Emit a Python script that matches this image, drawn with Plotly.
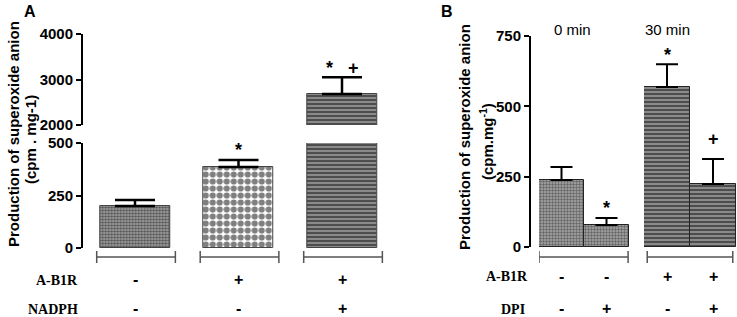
import plotly.graph_objects as go

# ---------------- data ----------------
a_categories = ["Control", "A-B1R", "A-B1R + NADPH"]
a_values = [200, 386, 2680]
a_errors = [29, 33, 370]
a_row1_label = "A-B1R"
a_row1 = ["-", "+", "+"]
a_row2_label = "NADPH"
a_row2 = ["-", "-", "+"]
a_sig = ["", "*", "*   +"]
a_low_ticks = [0, 250, 500]
a_high_ticks = [2000, 3000, 4000]

b_groups = ["0 min", "30 min"]
b_cats_0 = ["0 min / -DPI", "0 min / +DPI"]
b_vals_0 = [238, 78]
b_err_0 = [46, 25]
b_cats_30 = ["30 min / -DPI", "30 min / +DPI"]
b_vals_30 = [569, 224]
b_err_30 = [81, 89]
b_row1_label = "A-B1R"
b_row1 = ["-", "-", "+", "+"]
b_row2_label = "DPI"
b_row2 = ["-", "+", "-", "+"]
b_sig = ["", "*", "*", "+"]
b_ticks = [0, 250, 500, 750]

W, H = 737, 317
def px(x):
    return x / W
def py(y):
    return 1 - y / H

SANS = "Liberation Sans, Arial, sans-serif"
SERIF = "Liberation Serif, Times New Roman, serif"

fig = go.Figure()

# ---------------- panel A ----------------
a_pattern = dict(
    shape=[".", ".", "-"],
    fgcolor=["#000000", "#000000", "#000000"],
    bgcolor=["#a8a8a8", "#ffffff", "#9a9a9a"],
    size=[3, 7, 4],
    solidity=[0.5, 0.62, 0.6],
    fillmode="overlay",
)
for yax in ["y", "y2"]:
    fig.add_trace(go.Bar(
        x=a_categories, y=a_values, xaxis="x", yaxis=yax, width=0.68,
        marker=dict(color="white", pattern=a_pattern,
                    line=dict(color="#444444", width=1)),
        error_y=dict(type="data", array=a_errors, arrayminus=[0]*3,
                     symmetric=False, color="black", thickness=2.5, width=20),
        showlegend=False, hoverinfo="skip",
    ))

# ---------------- panel B ----------------
b_pat0 = dict(shape=".", fgcolor="#222222", bgcolor="#a8a8a8", size=3,
              solidity=0.5, fillmode="overlay")
b_pat30 = dict(shape="-", fgcolor="#000000", bgcolor="#9a9a9a", size=4,
               solidity=0.6, fillmode="overlay")
fig.add_trace(go.Bar(
    x=b_cats_0, y=b_vals_0, xaxis="x3", yaxis="y3", width=1.0,
    marker=dict(color="white", pattern=b_pat0, line=dict(color="#222222", width=1)),
    error_y=dict(type="data", array=b_err_0, arrayminus=[0]*2, symmetric=False,
                 color="black", thickness=2, width=11),
    showlegend=False, hoverinfo="skip"))
fig.add_trace(go.Bar(
    x=b_cats_30, y=b_vals_30, xaxis="x4", yaxis="y3", width=1.0,
    marker=dict(color="white", pattern=b_pat30, line=dict(color="#222222", width=1)),
    error_y=dict(type="data", array=b_err_30, arrayminus=[0]*2, symmetric=False,
                 color="black", thickness=2, width=11),
    showlegend=False, hoverinfo="skip"))

yax_common = dict(showline=True, linecolor="black", linewidth=2, ticks="outside",
                  ticklen=5, tickwidth=2, tickcolor="black", showgrid=False,
                  zeroline=False, fixedrange=True,
                  tickfont=dict(family=SANS, size=15, color="black", weight="bold"))
xax_common = dict(visible=False, fixedrange=True, type="category")

fig.update_layout(
    width=W, height=H, margin=dict(l=0, r=0, t=0, b=0, autoexpand=False),
    paper_bgcolor="white", plot_bgcolor="white", bargap=0, barmode="overlay",
    xaxis=dict(domain=[px(83.25), px(393.75)], range=[-0.5, 2.5], anchor="y", **xax_common),
    yaxis=dict(domain=[py(248), py(143)], range=[0, 500], tickvals=a_low_ticks,
               anchor="free", position=px(82), **yax_common),
    yaxis2=dict(domain=[py(125), py(34)], range=[2000, 4000], tickvals=a_high_ticks,
                anchor="free", position=px(82), **yax_common),
    xaxis3=dict(domain=[px(539), px(629)], range=[-0.5, 1.5], anchor="y3", **xax_common),
    xaxis4=dict(domain=[px(644), px(736)], range=[-0.5, 1.5], anchor="y3", **xax_common),
    yaxis3=dict(domain=[py(247), py(36)], range=[0, 750], tickvals=b_ticks,
                anchor="free", position=px(530), **yax_common),
)

shapes = []
annos = []

def bracket(xref, x0, x1):
    yb = py(257)
    col = "#555555"
    shapes.append(dict(type="line", xref=xref, yref="paper", x0=x0, x1=x1, y0=yb, y1=yb,
                       line=dict(color=col, width=1.5)))
    for xx in (x0, x1):
        shapes.append(dict(type="line", xref=xref, yref="paper", x0=xx, x1=xx,
                           y0=py(251), y1=py(263), line=dict(color=col, width=1.5)))

for i in range(len(a_categories)):
    bracket("x", i - 0.37, i + 0.39)
bracket("x3", -0.5, 1.48)
bracket("x4", -0.43, 1.43)

def txt(text, x, y, xref="paper", yref="paper", size=14, family=SANS, bold=True,
        angle=0, xanchor="center", yanchor="middle", yshift=0):
    annos.append(dict(text=text, x=x, y=y, xref=xref, yref=yref, showarrow=False,
                      textangle=angle, xanchor=xanchor, yanchor=yanchor, yshift=yshift,
                      font=dict(family=family, size=size, color="black",
                                weight="bold" if bold else "normal")))

# panel letters
txt("A", px(30), py(12), size=16)
txt("B", px(447), py(12), size=16)

# y titles
txt("Production of superoxide anion", px(13), py(134), size=15, angle=-90)
txt("(cpm . mg-1)", px(31), py(140), size=15, angle=-90)
txt("Production of superoxide anion", px(464), py(137), size=15, angle=-90)
txt("(cpm.mg<sup>-1</sup>)", px(486), py(142), size=15, angle=-90)

# group headers
txt(b_groups[0], px(572), py(30), size=15, bold=False)
txt(b_groups[1], px(667), py(30), size=15, bold=False)

# row labels panel A
txt(a_row1_label, px(80), py(280), family=SERIF, size=14, xanchor="right")
txt(a_row2_label, px(80), py(309), family=SERIF, size=14, xanchor="right")
for c, s1, s2 in zip(a_categories, a_row1, a_row2):
    txt(s1, c, py(279), xref="x", size=16)
    txt(s2, c, py(308), xref="x", size=16)

# row labels panel B
txt(b_row1_label, px(530), py(276), family=SERIF, size=14, xanchor="right")
txt(b_row2_label, px(527), py(309), family=SERIF, size=14, xanchor="right")
b_all = [("x3", c) for c in b_cats_0] + [("x4", c) for c in b_cats_30]
for (xr, c), s1, s2 in zip(b_all, b_row1, b_row2):
    txt(s1, c, py(276), xref=xr, size=16)
    txt(s2, c, py(308), xref=xr, size=16)

# significance marks
a_yref = ["y", "y", "y2"]
a_shift = [12, 10, 9]
for c, v, e, s, yr, sh in zip(a_categories, a_values, a_errors, a_sig, a_yref, a_shift):
    if s:
        txt(s, c, v + e, xref="x", yref=yr, size=18, yshift=sh)
b_vals = b_vals_0 + b_vals_30
b_errs = b_err_0 + b_err_30
b_shift = [10, 10, 9, 20]
for (xr, c), v, e, s, sh in zip(b_all, b_vals, b_errs, b_sig, b_shift):
    if s:
        txt(s, c, v + e, xref=xr, yref="y3", size=18, yshift=sh)

fig.update_layout(shapes=shapes, annotations=annos)
fig.write_html("out.html", config={"displayModeBar": False},
               post_script="document.body.style.margin='0';document.body.style.padding='0';")
